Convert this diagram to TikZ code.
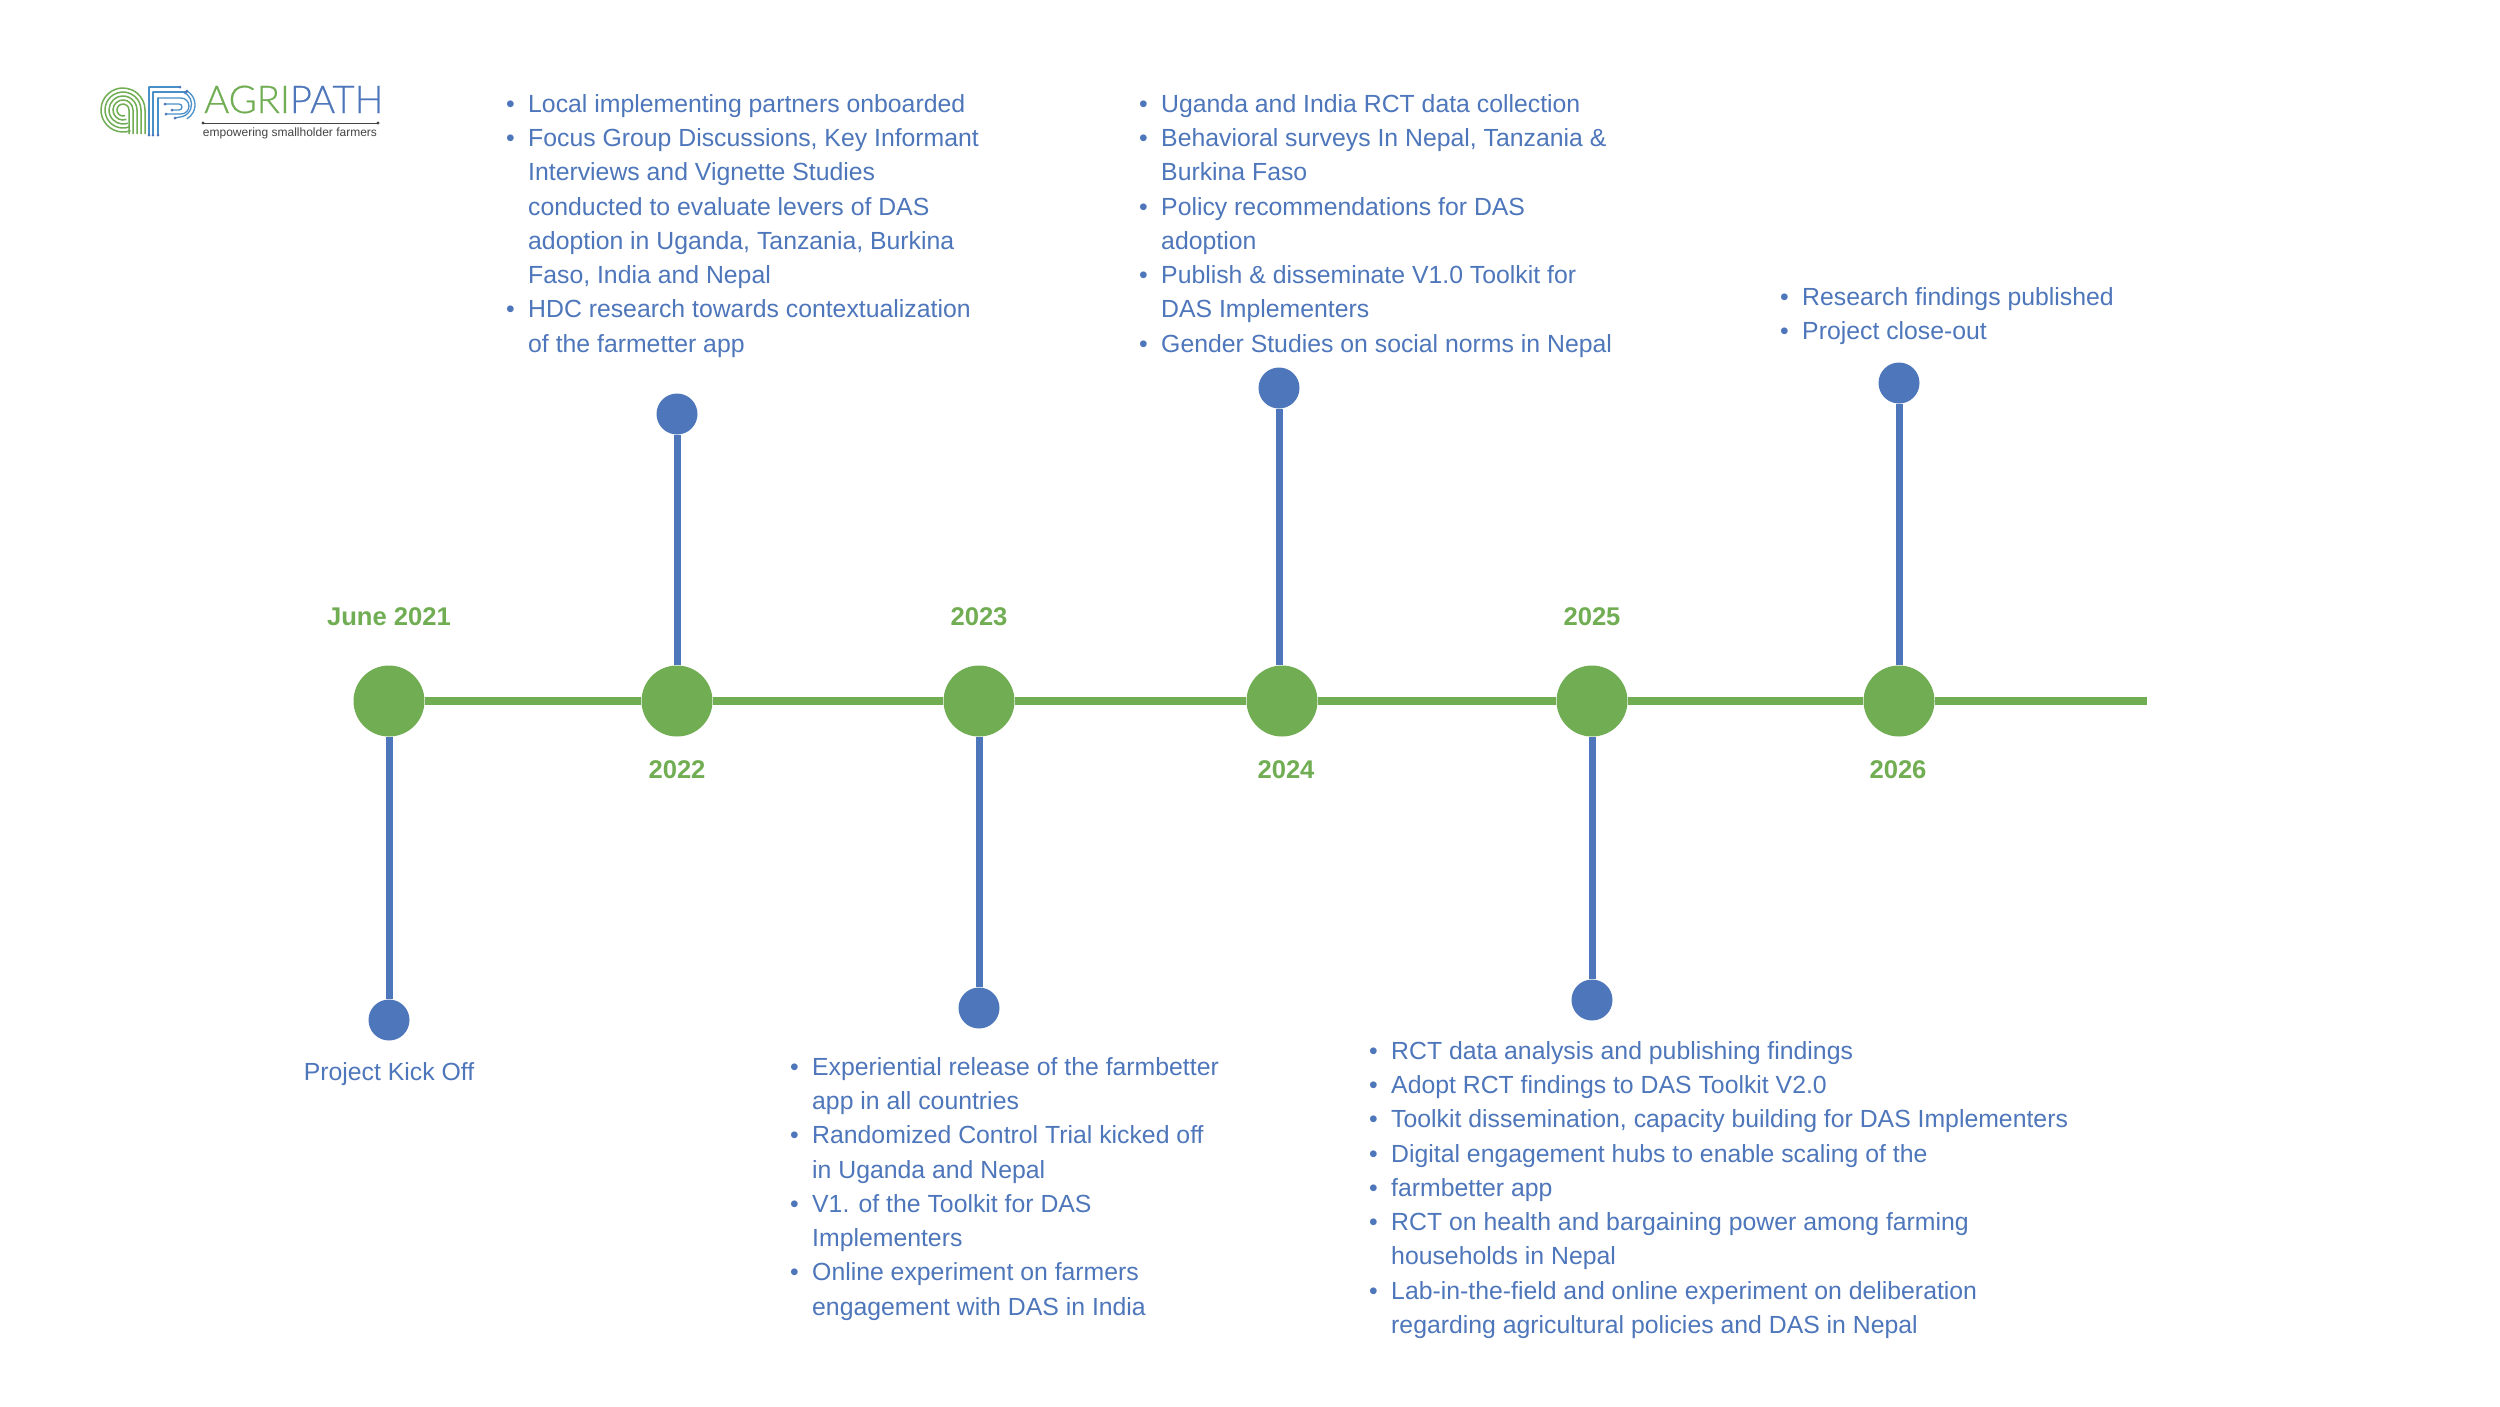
\documentclass[tikz,border=0pt]{standalone}
\usepackage{fontspec}
\setmainfont{Liberation Sans}
\newfontfamily\logofont[FakeBold=0.5]{Lato Light}
\definecolor{tlgreen}{HTML}{70AD53}
\definecolor{tlblue}{HTML}{4E76BA}
\definecolor{lgblue}{HTML}{4A90C8}
\definecolor{lggrey}{HTML}{444444}
\newcommand{\bi}{\makebox[23pt][l]{\hspace*{1pt}•}}
\newcommand{\ci}{\hspace*{23pt}}
\tikzset{
  x=1pt,y=-1pt,
  mainline/.style={line width=8pt,draw=tlgreen},
  stem/.style={line width=7pt,draw=tlblue},
  yearnode/.style={circle,fill=tlgreen,minimum size=71pt,inner sep=0pt},
  tipnode/.style={circle,fill=tlblue,minimum size=41pt,inner sep=0pt},
  yearlabel/.style={text=tlgreen,font=\fontsize{25.6}{30}\selectfont\bfseries,inner sep=0pt},
  blurb/.style={text=tlblue,font=\fontsize{24.8}{34.3}\selectfont,align=left,inner sep=0pt,anchor=north west},
  lggreen/.style={draw=tlgreen,line width=1.5pt},
  lgb/.style={draw=lgblue,line width=1.3pt,line cap=round},
  lgd/.style={fill=tlblue},
}
\begin{document}
\begin{tikzpicture}
\useasboundingbox (0,0) rectangle (2500,1406);
\fill[white] (0,0) rectangle (2500,1406);
% axis
\node[yearnode] (y21) at (389,701) {};
\node[yearnode] (y22) at (677,701) {};
\node[yearnode] (y23) at (979,701) {};
\node[yearnode] (y24) at (1282,701) {};
\node[yearnode] (y25) at (1592,701) {};
\node[yearnode] (y26) at (1899,701) {};
\coordinate (axisend) at (2147,701);
\node[tipnode] (t21) at (389,1020) {};
\node[tipnode] (t22) at (677,414) {};
\node[tipnode] (t23) at (979,1008) {};
\node[tipnode] (t24) at (1279,388) {};
\node[tipnode] (t25) at (1592,1000) {};
\node[tipnode] (t26) at (1899,383) {};
\draw[mainline] (y21)--(y22);
\draw[mainline] (y22)--(y23);
\draw[mainline] (y23)--(y24);
\draw[mainline] (y24)--(y25);
\draw[mainline] (y25)--(y26);
\draw[mainline] (y26)--(axisend);
\draw[stem] (y21)--(t21);
\draw[stem] (y22)--(t22);
\draw[stem] (y23)--(t23);
\draw[stem] (t24 |- y24.north)--(t24);
\draw[stem] (y25)--(t25);
\draw[stem] (y26)--(t26);
% year labels
\node[yearlabel] (l21) at (389,617) {June 2021};
\node[yearlabel] (l22) at (677,770) {2022};
\node[yearlabel] (l23) at (979,617) {2023};
\node[yearlabel] (l24) at (1286,770) {2024};
\node[yearlabel] (l25) at (1592,617) {2025};
\node[yearlabel] (l26) at (1898,770) {2026};
% blurbs
\node[text=tlblue,font=\fontsize{24.8}{30}\selectfont,inner sep=0pt] (b21) at (389,1074) {Project Kick Off};
\node[blurb] (b22) at (505,94) {\bi Local implementing partners onboarded\\
\bi Focus Group Discussions, Key Informant\\
\ci Interviews and Vignette Studies\\
\ci conducted to evaluate levers of DAS\\
\ci adoption in Uganda, Tanzania, Burkina\\
\ci Faso, India and Nepal\\
\bi HDC research towards contextualization\\
\ci of the farmetter app};
\node[blurb] (b23) at (789,1057) {\bi Experiential release of the farmbetter\\
\ci app in all countries\\
\bi Randomized Control Trial kicked off\\
\ci in Uganda and Nepal\\
\bi V1. of the Toolkit for DAS\\
\ci Implementers\\
\bi Online experiment on farmers\\
\ci engagement with DAS in India};
\node[blurb] (b24) at (1138,94) {\bi Uganda and India RCT data collection\\
\bi Behavioral surveys In Nepal, Tanzania \&\\
\ci Burkina Faso\\
\bi Policy recommendations for DAS\\
\ci adoption\\
\bi Publish \& disseminate V1.0 Toolkit for\\
\ci DAS Implementers\\
\bi Gender Studies on social norms in Nepal};
\node[blurb] (b25) at (1368,1041) {\bi RCT data analysis and publishing findings\\
\bi Adopt RCT findings to DAS Toolkit V2.0\\
\bi Toolkit dissemination, capacity building for DAS Implementers\\
\bi Digital engagement hubs to enable scaling of the\\
\bi farmbetter app\\
\bi RCT on health and bargaining power among farming\\
\ci households in Nepal\\
\bi Lab-in-the-field and online experiment on deliberation\\
\ci regarding agricultural policies and DAS in Nepal};
\node[blurb] (b26) at (1779,287) {\bi Research findings published\\
\bi Project close-out};
% logo: green rings
\foreach \r in {6,10,14,18,22}{
  \draw[lggreen] ({123+\r*cos(70)},{110+\r*sin(70)}) arc[start angle=70,end angle=360,radius=\r] -- (123+\r,134);
}
% logo: circuit P
\draw[lgb] (149,87)--(149,135);
\draw[lgb] (149,87)--(180,87);
\draw[lgb] (153,92)--(186,92);
\draw[lgb] (153,92)--(153,135);
\draw[lgb] (158,98)--(181,98) arc[start angle=-90,end angle=90,radius=8] -- (166,114);
\draw[lgb] (158,98)--(158,135);
\draw[lgb] (165,104)--(179,104) arc[start angle=-90,end angle=90,radius=3] -- (172,110);
\draw[lgb] (187,91) arc[start angle=-60,end angle=60,radius=16];
\draw[lgb] (183,92) arc[start angle=-70,end angle=70,radius=13] -- (175,118);
\foreach \p in {(180,87),(186,92),(166,114),(165,104),(172,110),(187,91),(175,118),(149,135),(153,135),(158,135)}{
  \fill[lgd] \p circle (1.5);
}
\node[inner sep=0pt,anchor=base west,font=\logofont\fontsize{38.2}{42}\selectfont] (logoname) at (204,113) {\textcolor{tlgreen}{AGRI}\textcolor{tlblue}{PATH}};
\coordinate (ruleL) at (203,123);
\coordinate (ruleR) at (378,123);
\draw[lggrey,line width=1pt] (ruleL)--(ruleR);
\fill[lggrey] (ruleL) circle (1.6) (ruleR) circle (1.6);
\node[inner sep=0pt,text=lggrey,font=\fontsize{12}{14}\selectfont] (tagline) at (290,133) {empowering smallholder farmers};
\end{tikzpicture}
\end{document}
